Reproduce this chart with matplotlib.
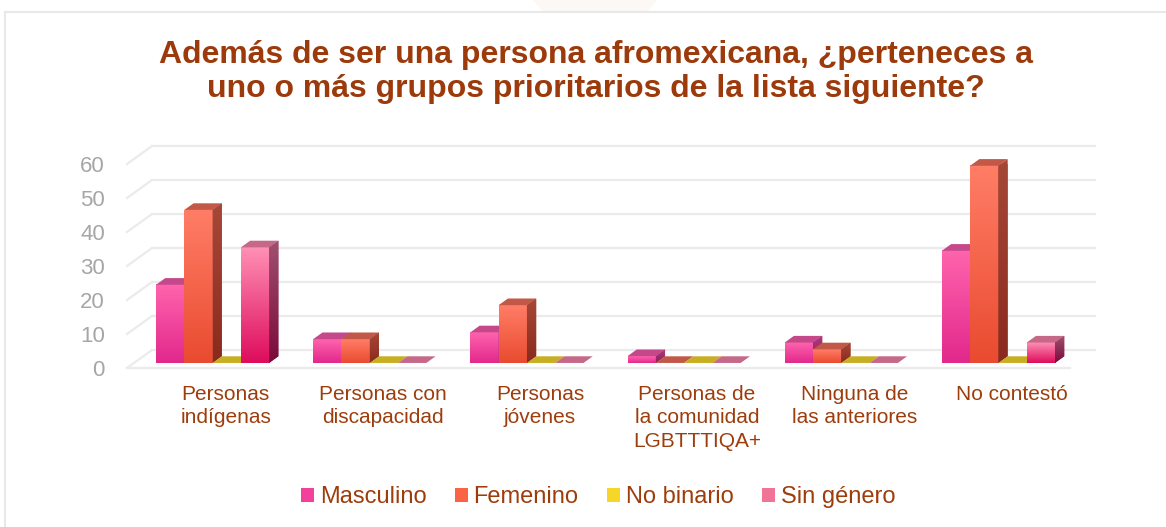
import numpy as np
import matplotlib
matplotlib.use('Agg')
import matplotlib.pyplot as plt
from matplotlib.patches import Polygon, Patch
from matplotlib.lines import Line2D
from matplotlib.colors import to_rgb
from matplotlib.transforms import ScaledTranslation

plt.rcParams['font.family'] = ['Liberation Sans', 'DejaVu Sans']

categorias = ['Personas\nindígenas', 'Personas con\ndiscapacidad', 'Personas\njóvenes',
              'Personas de\nla comunidad\nLGBTTTIQA+', 'Ninguna de\nlas anteriores', 'No contestó']
masculino = [23, 7, 9, 2, 6, 33]
femenino = [45, 7, 17, 0, 4, 58]
no_binario = [0, 0, 0, 0, 0, 0]
sin_genero = [34, 0, 0, 0, 0, 6]
series = ['Masculino', 'Femenino', 'No binario', 'Sin género']
valores = [masculino, femenino, no_binario, sin_genero]
yticks = [0, 10, 20, 30, 40, 50, 60]

# colores: frente arriba, frente abajo, tapa, lado arriba, lado abajo, leyenda
colores = {
    'Masculino': ('#FF64AD', '#E2288C', '#C4488A', '#B03A7A', '#8E1E5C', '#F2409C'),
    'Femenino': ('#FF7D66', '#E94B30', '#C25848', '#A64838', '#8A2A1E', '#FA6444'),
    'No binario': ('#FADC3A', '#E8C010', '#C7AE22', '#A89018', '#8A7410', '#F6D628'),
    'Sin género': ('#FF90B4', '#DE0C5C', '#C66888', '#A05070', '#7A0A3A', '#F07498'),
}
texto = '#9E3D0C'

W, H = 1166, 527
fig = plt.figure(figsize=(W / 100, H / 100), dpi=100)

# borde del grafico y adorno superior
fig.add_artist(Line2D([5 / W, 1], [1 - 12 / H, 1 - 12 / H], color='#E8E8E8', lw=1.5))
fig.add_artist(Line2D([5 / W, 5 / W], [0, 1 - 12 / H], color='#E8E8E8', lw=1.5))
fig.add_artist(Polygon([[533 / W, 1], [657 / W, 1], [647 / W, 1 - 12 / H], [543 / W, 1 - 12 / H]],
                       closed=True, transform=fig.transFigure, facecolor='#FBF8F5', edgecolor='none'))

ax = fig.add_axes([127 / W, 159 / H, 943 / W, 204 / H])
ax.set_xlim(0, 6)
ax.set_ylim(0, 60)
ax.set_autoscale_on(False)
for s in ax.spines.values():
    s.set_visible(False)

# profundidad 3D en pixeles -> datos
inv = ax.transData.inverted()
p0 = inv.transform((0, 0))
p1 = inv.transform((25, 18))
DX, DY = p1 - p0
f0, fd = 0.28, 0.37
bdx, bdy = fd * DX, fd * DY

grid_c = '#EBEBEB'
for v in yticks:
    ax.plot([DX, 6 + DX], [v + DY, v + DY], color=grid_c, lw=1.6, clip_on=False, zorder=1)
    ax.plot([0, DX], [v, v + DY], color=grid_c, lw=1.6, clip_on=False, zorder=1)
ax.plot([0, 6], [0, 0], color=grid_c, lw=1.6, clip_on=False, zorder=1)


def gradiente(c_top, c_bot, n=64):
    t = np.linspace(0, 1, n)[:, None, None]
    return np.array(to_rgb(c_bot)) * (1 - t) + np.array(to_rgb(c_top)) * t


ancho = 0.18
margen = (1 - 4 * ancho) / 2
idx = np.arange(len(categorias))
for j, (nombre, vals) in enumerate(zip(series, valores)):
    c = colores[nombre]
    x = idx + margen + j * ancho + f0 * DX
    base = f0 * DY
    barras = ax.bar(x, vals, width=ancho, bottom=base, align='edge',
                    color=c[1], clip_on=False, zorder=2)
    for b in barras:
        x0, y0 = b.get_x(), b.get_y()
        x1, y1 = x0 + b.get_width(), y0 + b.get_height()
        if y1 > y0:
            ax.imshow(gradiente(c[0], c[1]), extent=[x0, x1, y0, y1], origin='lower',
                      aspect='auto', interpolation='bilinear', zorder=2, clip_on=False)
        tapa = Polygon([[x0, y1], [x1, y1], [x1 + bdx, y1 + bdy], [x0 + bdx, y1 + bdy]],
                       closed=True, facecolor=c[2], edgecolor='none', clip_on=False, zorder=2)
        ax.add_patch(tapa)
        if y1 > y0:
            lado = Polygon([[x1, y0], [x1 + bdx, y0 + bdy], [x1 + bdx, y1 + bdy], [x1, y1]],
                           closed=True, facecolor=c[3], edgecolor='none', clip_on=False, zorder=2)
            ax.add_patch(lado)
            im = ax.imshow(gradiente(c[3], c[4]), extent=[x1, x1 + bdx, y0, y1 + bdy],
                           origin='lower', aspect='auto', interpolation='bilinear', zorder=2)
            im.set_clip_path(lado)

ax.set_xlim(0, 6)
ax.set_ylim(0, 60)

ax.set_yticks(yticks)
ax.tick_params(axis='y', length=0, pad=16, labelsize=16, labelcolor='#A6A6A6')
ax.set_xticks(idx + 0.5)
ax.set_xticklabels(categorias, linespacing=1.32)
ax.tick_params(axis='x', length=0, pad=12, labelsize=15, labelcolor=texto)
for lab in ax.get_xticklabels():
    lab.set_transform(lab.get_transform() + ScaledTranslation(0.2, 0, fig.dpi_scale_trans))

fig.text(596 / W, 1 - 72 / H,
         'Además de ser una persona afromexicana, ¿perteneces a\nuno o más grupos prioritarios de la lista siguiente?',
         ha='center', va='center', fontsize=23, fontweight='bold', color='#9C3A0B', linespacing=1.18)

handles = [Patch(facecolor=colores[s][5], edgecolor='none') for s in series]
fig.legend(handles, series, loc='center', bbox_to_anchor=(598 / W, 1 - 497 / H), ncol=4,
           frameon=False, fontsize=17, handlelength=0.55, handleheight=0.55,
           handletextpad=0.25, columnspacing=1.2, labelcolor=texto)

fig.savefig('out.png', dpi=100)
